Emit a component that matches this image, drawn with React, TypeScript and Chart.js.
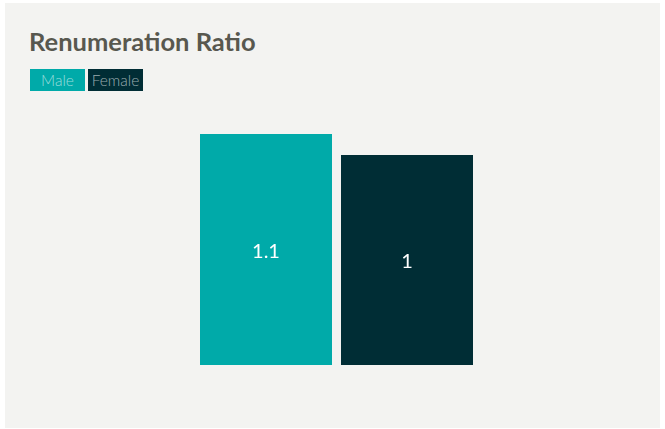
import React, { useEffect, useRef } from "react";
import { Chart, registerables } from "chart.js";

Chart.register(...registerables);

const title = "Renumeration Ratio";
const seriesNames = ["Male", "Female"];
const seriesValues = [1.1, 1];
const seriesColors = ["#00aaa9", "#002d35"];
const categories = ["Ratio"];

const FONT = "Lato, 'Open Sans', sans-serif";

// Writes each bar's value in the middle of the bar.
const valueLabels = {
  id: "valueLabels",
  afterDatasetsDraw(chart: any) {
    const ctx = chart.ctx;
    ctx.save();
    ctx.fillStyle = "#ffffff";
    ctx.font = `400 20px ${FONT}`;
    ctx.textAlign = "center";
    ctx.textBaseline = "middle";
    chart.data.datasets.forEach((ds: any, i: number) => {
      const meta = chart.getDatasetMeta(i);
      meta.data.forEach((bar: any, j: number) => {
        const y = (bar.y + bar.base) / 2 + 2;
        ctx.fillText(String(ds.data[j]), bar.x, y);
      });
    });
    ctx.restore();
  },
};

export default function App() {
  const ref = useRef<HTMLCanvasElement>(null);

  useEffect(() => {
    document.body.style.margin = "0";
    const chart = new Chart(ref.current!, {
      type: "bar",
      data: {
        labels: categories,
        datasets: seriesNames.map((name, i) => ({
          label: name,
          data: [seriesValues[i]],
          backgroundColor: seriesColors[i],
          borderWidth: 0,
          categoryPercentage: 1,
          barPercentage: 132 / 141,
        })),
      },
      options: {
        animation: false,
        responsive: false,
        maintainAspectRatio: false,
        layout: { padding: { top: 34, bottom: 63, left: 190.5, right: 182.5 } },
        plugins: {
          legend: { display: false },
          tooltip: { enabled: false },
          title: { display: false },
        },
        scales: {
          x: { display: false },
          y: { display: false, min: 0, max: 1.1 },
        },
      },
      plugins: [valueLabels],
    });
    return () => chart.destroy();
  }, []);

  return (
    <div style={{ position: "relative", width: 665, height: 429, background: "#ffffff" }}>
      <div
        style={{
          position: "absolute",
          left: 5,
          top: 3,
          width: 655,
          height: 425,
          background: "#f3f3f1",
        }}
      >
        <canvas
          ref={ref}
          width={655}
          height={328}
          style={{ position: "absolute", left: 0, top: 97, width: 655, height: 328 }}
        />
        <div
          style={{
            position: "absolute",
            left: 24,
            top: 23,
            fontFamily: FONT,
            fontWeight: 700,
            fontSize: 25.5,
            lineHeight: "30px",
            color: "#58584f",
            whiteSpace: "nowrap",
          }}
        >
          {title}
        </div>
        <div style={{ position: "absolute", left: 25, top: 66, display: "flex", gap: 3 }}>
          {seriesNames.map((name, i) => (
            <div
              key={name}
              style={{
                width: 55,
                height: 22,
                background: seriesColors[i],
                color: "rgba(255,255,255,0.6)",
                fontFamily: FONT,
                fontWeight: 300,
                fontSize: 15.5,
                lineHeight: "22px",
                textAlign: "center",
              }}
            >
              {name}
            </div>
          ))}
        </div>
      </div>
    </div>
  );
}
